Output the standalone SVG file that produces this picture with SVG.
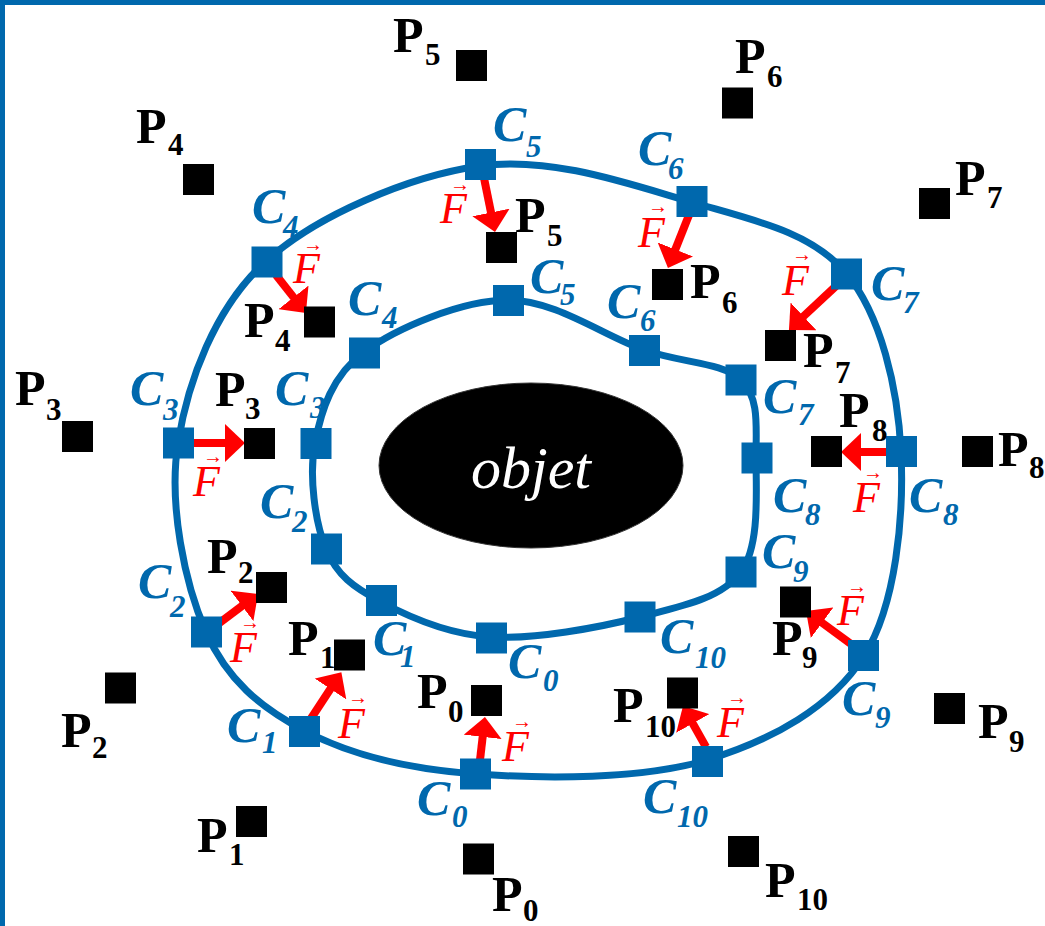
<svg xmlns="http://www.w3.org/2000/svg" width="1045" height="926" viewBox="0 0 1045 926">
<defs>
<style>
.bd{fill:#0068ad}
.ct{fill:none;stroke:#0068ad;stroke-width:7}
.cs{fill:#0068ad}
.ps{fill:#000}
.ar{stroke:#ff0000;stroke-width:8;fill:none;marker-end:url(#ah)}
.p{font-family:"Liberation Serif","Times New Roman",serif;font-weight:bold;font-size:50px;fill:#000}
.ps2{font-size:31px}
.c{font-family:"Liberation Serif","Times New Roman",serif;font-weight:bold;font-style:italic;font-size:50px;fill:#0068ad}
.cs2{font-size:31px}
.f{font-family:"Liberation Serif","Times New Roman",serif;font-style:italic;font-size:44px;fill:#ff0000}
.fa{font-family:"Liberation Serif","DejaVu Serif",serif;font-style:normal;font-size:20px}
.ob{font-family:"Liberation Serif","Times New Roman",serif;font-style:italic;font-size:60px;fill:#fff;text-anchor:middle}
</style>
<marker id="ah" markerUnits="userSpaceOnUse" markerWidth="20" markerHeight="38" refX="2" refY="19" orient="auto">
<path d="M0,0 L20,19 L0,38 Z" fill="#ff0000"/>
</marker>
</defs>
<rect width="1045" height="926" fill="#fff"/>
<rect class="bd" x="0" y="0" width="1045" height="5"/>
<rect class="bd" x="0" y="0" width="5" height="926"/>

<g id="objet">
<ellipse cx="531" cy="465.5" rx="152" ry="82.5" fill="#000" stroke="#333" stroke-width="1"/>
<text class="ob" x="531" y="488">objet</text>
</g>

<g id="contours">
<path class="ct" d="M480,166 C551,156 630,184.2 691,202 C752,219.8 811,231.3 846,273 C881,314.7 898,388.2 901,452 C904,515.8 896.3,604.7 864,656 C831.7,707.3 771.7,740.3 707,760 C642.3,779.7 543,778.8 476,774 C409,769.2 350,754.7 305,731 C260,707.3 227.2,680 206,632 C184.8,584 168.2,504.7 178,443 C187.8,381.3 214.7,308.2 265,262 C315.3,215.8 409,176 480,166 Z"/>
<path class="ct" d="M508,300 C554.7,299.7 605.2,336.7 644,350 C682.8,363.3 722.3,362 741,380 C759.7,398 756,426 756,458 C756,490 760.3,545.5 741,572 C721.7,598.5 681.7,606.2 640,617 C598.3,627.8 534.2,639.5 491,637 C447.8,634.5 408.5,616.7 381,602 C353.5,587.3 337,575.5 326,549 C315,522.5 308.7,475.8 315,443 C321.3,410.2 331.8,375.8 364,352 C396.2,328.2 461.3,300.3 508,300 Z"/>
</g>

<g id="connectors">
<line class="ar" x1="484" y1="178" x2="491.4" y2="214.4"/>
<line class="ar" x1="689" y1="215" x2="674.6" y2="251.3"/>
<line class="ar" x1="276" y1="275" x2="294.8" y2="298.9"/>
<line class="ar" x1="836" y1="286" x2="802.1" y2="317.7"/>
<line class="ar" x1="194" y1="443" x2="227" y2="443"/>
<line class="ar" x1="886" y1="452" x2="859" y2="452"/>
<line class="ar" x1="218" y1="624" x2="243.6" y2="604.8"/>
<line class="ar" x1="851" y1="644" x2="820.5" y2="621.6"/>
<line class="ar" x1="310" y1="720" x2="331.5" y2="687.3"/>
<line class="ar" x1="480" y1="760" x2="482.9" y2="734.9"/>
<line class="ar" x1="706" y1="747" x2="691.8" y2="721.7"/>
<text class="f"><tspan class="fa" x="450" y="191">→</tspan><tspan x="440" y="223">F</tspan></text>
<text class="f"><tspan class="fa" x="648" y="213">→</tspan><tspan x="638" y="247">F</tspan></text>
<text class="f"><tspan class="fa" x="303" y="251">→</tspan><tspan x="293" y="283">F</tspan></text>
<text class="f"><tspan class="fa" x="792" y="261">→</tspan><tspan x="782" y="295">F</tspan></text>
<text class="f"><tspan class="fa" x="203" y="463">→</tspan><tspan x="193" y="496">F</tspan></text>
<text class="f"><tspan class="fa" x="863" y="479">→</tspan><tspan x="853" y="512">F</tspan></text>
<text class="f"><tspan class="fa" x="240" y="629">→</tspan><tspan x="230" y="662">F</tspan></text>
<text class="f"><tspan class="fa" x="847" y="593">→</tspan><tspan x="837" y="625">F</tspan></text>
<text class="f"><tspan class="fa" x="348" y="704">→</tspan><tspan x="338" y="738">F</tspan></text>
<text class="f"><tspan class="fa" x="512" y="728">→</tspan><tspan x="502" y="761">F</tspan></text>
<text class="f"><tspan class="fa" x="727" y="704">→</tspan><tspan x="717" y="737">F</tspan></text>
</g>

<g id="C0"><rect class="cs" x="460" y="758.5" width="31" height="31"/><text class="c" x="417" y="815">C<tspan class="cs2" x="452" y="827">0</tspan></text></g>
<g id="C1"><rect class="cs" x="289" y="716" width="31" height="31"/><text class="c" x="227" y="742">C<tspan class="cs2" x="262" y="753">1</tspan></text></g>
<g id="C2"><rect class="cs" x="191" y="616.5" width="31" height="31"/><text class="c" x="138" y="598">C<tspan class="cs2" x="170" y="617">2</tspan></text></g>
<g id="C3"><rect class="cs" x="163" y="427.5" width="31" height="31"/><text class="c" x="130" y="405">C<tspan class="cs2" x="163" y="420">3</tspan></text></g>
<g id="C4"><rect class="cs" x="251.5" y="246.5" width="31" height="31"/><text class="c" x="252" y="223">C<tspan class="cs2" x="283" y="237">4</tspan></text></g>
<g id="C5"><rect class="cs" x="465" y="149" width="31" height="31"/><text class="c" x="493" y="141">C<tspan class="cs2" x="526" y="157">5</tspan></text></g>
<g id="C6"><rect class="cs" x="676.5" y="186" width="31" height="31"/><text class="c" x="638" y="165">C<tspan class="cs2" x="668" y="179">6</tspan></text></g>
<g id="C7"><rect class="cs" x="831" y="258.5" width="31" height="31"/><text class="c" x="871" y="300">C<tspan class="cs2" x="903" y="313">7</tspan></text></g>
<g id="C8"><rect class="cs" x="886" y="436" width="31" height="31"/><text class="c" x="909" y="512">C<tspan class="cs2" x="943" y="525">8</tspan></text></g>
<g id="C9"><rect class="cs" x="848" y="640" width="31" height="31"/><text class="c" x="842" y="715">C<tspan class="cs2" x="875" y="728">9</tspan></text></g>
<g id="C10"><rect class="cs" x="692" y="746" width="31" height="31"/><text class="c" x="643" y="813">C<tspan class="cs2" x="677" y="827">10</tspan></text></g>

<g id="C0i"><rect class="cs" x="476" y="622.5" width="31" height="31"/><text class="c" x="508" y="678">C<tspan class="cs2" x="543" y="691">0</tspan></text></g>
<g id="C1i"><rect class="cs" x="366" y="585" width="31" height="31"/><text class="c" x="373" y="655">C<tspan class="cs2" x="400" y="667">1</tspan></text></g>
<g id="C2i"><rect class="cs" x="311" y="533.5" width="31" height="31"/><text class="c" x="260" y="518">C<tspan class="cs2" x="292" y="532">2</tspan></text></g>
<g id="C3i"><rect class="cs" x="300.5" y="428" width="31" height="31"/><text class="c" x="275" y="405">C<tspan class="cs2" x="310" y="418">3</tspan></text></g>
<g id="C4i"><rect class="cs" x="349" y="337.5" width="31" height="31"/><text class="c" x="348" y="315">C<tspan class="cs2" x="382" y="328">4</tspan></text></g>
<g id="C5i"><rect class="cs" x="493" y="285" width="31" height="31"/><text class="c" x="530" y="293">C<tspan class="cs2" x="560" y="305">5</tspan></text></g>
<g id="C6i"><rect class="cs" x="629" y="335" width="31" height="31"/><text class="c" x="607" y="318">C<tspan class="cs2" x="640" y="331">6</tspan></text></g>
<g id="C7i"><rect class="cs" x="725.5" y="364.5" width="31" height="31"/><text class="c" x="763" y="413">C<tspan class="cs2" x="798" y="425">7</tspan></text></g>
<g id="C8i"><rect class="cs" x="741.5" y="442.5" width="31" height="31"/><text class="c" x="773" y="512">C<tspan class="cs2" x="805" y="525">8</tspan></text></g>
<g id="C9i"><rect class="cs" x="725.5" y="556.5" width="31" height="31"/><text class="c" x="762" y="568">C<tspan class="cs2" x="793" y="582">9</tspan></text></g>
<g id="C10i"><rect class="cs" x="624.5" y="601.5" width="31" height="31"/><text class="c" x="660" y="653">C<tspan class="cs2" x="695" y="668">10</tspan></text></g>

<g id="P0"><rect class="ps" x="463" y="843.5" width="31" height="31"/><text class="p" x="492" y="911">P<tspan class="ps2" x="523" y="921">0</tspan></text></g>
<g id="P1"><rect class="ps" x="236" y="806" width="31" height="31"/><text class="p" x="197" y="852">P<tspan class="ps2" x="229" y="865">1</tspan></text></g>
<g id="P2"><rect class="ps" x="105" y="672.5" width="31" height="31"/><text class="p" x="61" y="747">P<tspan class="ps2" x="92" y="758">2</tspan></text></g>
<g id="P3"><rect class="ps" x="62" y="421" width="31" height="31"/><text class="p" x="15" y="405">P<tspan class="ps2" x="46" y="420">3</tspan></text></g>
<g id="P4"><rect class="ps" x="183" y="164" width="31" height="31"/><text class="p" x="136" y="143">P<tspan class="ps2" x="168" y="155">4</tspan></text></g>
<g id="P5"><rect class="ps" x="456" y="50" width="31" height="31"/><text class="p" x="393" y="52">P<tspan class="ps2" x="425" y="65">5</tspan></text></g>
<g id="P6"><rect class="ps" x="722" y="87.5" width="31" height="31"/><text class="p" x="735" y="73">P<tspan class="ps2" x="767" y="87">6</tspan></text></g>
<g id="P7"><rect class="ps" x="919" y="188" width="31" height="31"/><text class="p" x="955" y="195">P<tspan class="ps2" x="987" y="208">7</tspan></text></g>
<g id="P8"><rect class="ps" x="962" y="436" width="31" height="31"/><text class="p" x="998" y="466">P<tspan class="ps2" x="1029" y="478">8</tspan></text></g>
<g id="P9"><rect class="ps" x="934" y="693" width="31" height="31"/><text class="p" x="978" y="738">P<tspan class="ps2" x="1009" y="752">9</tspan></text></g>
<g id="P10"><rect class="ps" x="728" y="836" width="31" height="31"/><text class="p" x="765" y="897">P<tspan class="ps2" x="797" y="910">10</tspan></text></g>

<g id="P0i"><rect class="ps" x="471" y="685" width="31" height="31"/><text class="p" x="417" y="708">P<tspan class="ps2" x="448" y="722">0</tspan></text></g>
<g id="P1i"><rect class="ps" x="334" y="639.5" width="31" height="31"/><text class="p" x="288" y="655">P<tspan class="ps2" x="320" y="668">1</tspan></text></g>
<g id="P2i"><rect class="ps" x="256" y="572" width="31" height="31"/><text class="p" x="207" y="573">P<tspan class="ps2" x="238" y="583">2</tspan></text></g>
<g id="P3i"><rect class="ps" x="244" y="428" width="31" height="31"/><text class="p" x="215" y="406">P<tspan class="ps2" x="245" y="419">3</tspan></text></g>
<g id="P4i"><rect class="ps" x="304" y="306.5" width="31" height="31"/><text class="p" x="244" y="337">P<tspan class="ps2" x="275" y="351">4</tspan></text></g>
<g id="P5i"><rect class="ps" x="486" y="232" width="31" height="31"/><text class="p" x="515" y="232">P<tspan class="ps2" x="547" y="246">5</tspan></text></g>
<g id="P6i"><rect class="ps" x="652" y="269" width="31" height="31"/><text class="p" x="690" y="298">P<tspan class="ps2" x="722" y="313">6</tspan></text></g>
<g id="P7i"><rect class="ps" x="765" y="330" width="31" height="31"/><text class="p" x="803" y="367">P<tspan class="ps2" x="835" y="383">7</tspan></text></g>
<g id="P8i"><rect class="ps" x="811" y="436" width="31" height="31"/><text class="p" x="839" y="427">P<tspan class="ps2" x="872" y="441">8</tspan></text></g>
<g id="P9i"><rect class="ps" x="780" y="586.5" width="31" height="31"/><text class="p" x="772" y="655">P<tspan class="ps2" x="802" y="668">9</tspan></text></g>
<g id="P10i"><rect class="ps" x="667" y="677.5" width="31" height="31"/><text class="p" x="613" y="722">P<tspan class="ps2" x="645" y="737">10</tspan></text></g>
</svg>
